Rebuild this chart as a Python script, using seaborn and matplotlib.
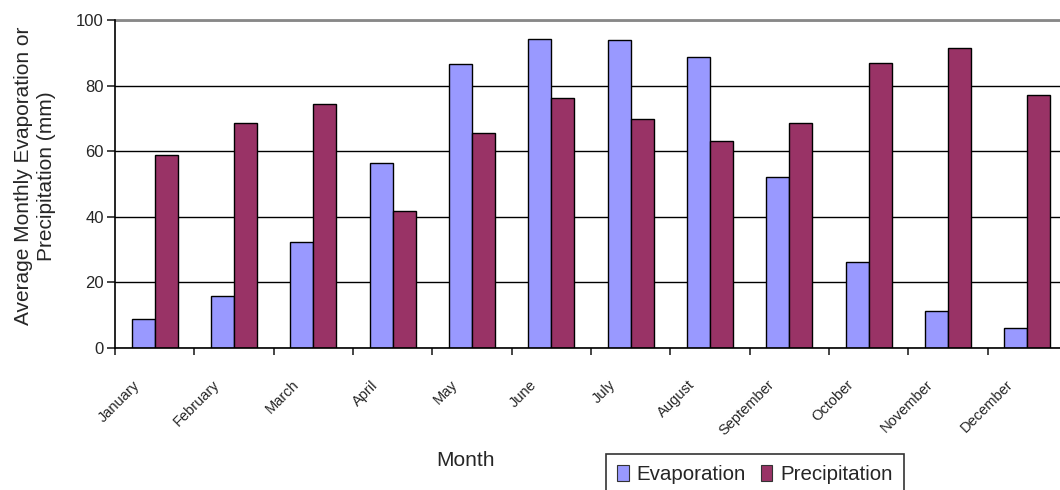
import pandas as pd
import numpy as np
from matplotlib import pyplot as plt
from matplotlib import transforms
import seaborn as sns

# data
months = ['January', 'February', 'March', 'April', 'May', 'June',
          'July', 'August', 'September', 'October', 'November', 'December']
evaporation = [8.8, 15.8, 32.3, 56.3, 86.5, 94.3, 94.0, 88.8, 52.1, 26.1, 11.3, 6.1]
precipitation = [58.8, 68.5, 74.3, 41.7, 65.5, 76.3, 69.7, 63.0, 68.5, 86.8, 91.6, 77.0]
y_ticks = [0, 20, 40, 60, 80, 100]

# long format table for seaborn
df = pd.DataFrame({
    'Month': months * 2,
    'Value': evaporation + precipitation,
    'Series': ['Evaporation'] * 12 + ['Precipitation'] * 12,
})

sns.set_style('white')
plt.rcParams['font.family'] = ['Liberation Sans', 'DejaVu Sans']

fig = plt.figure(figsize=(10.6, 4.9), dpi=100)
ax = fig.add_axes([115 / 1060, 1 - 348 / 490, 952 / 1060, 328 / 490])

sns.barplot(data=df, x='Month', y='Value', hue='Series', ax=ax,
            palette=['#9999FF', '#993366'], edgecolor='black', linewidth=1.0,
            width=0.58, saturation=1, legend=True)

# axis look
ax.set_ylim(0, 100)
ax.set_xlim(-0.5, 11.5)
ax.set_yticks(y_ticks)
ax.set_yticklabels([str(t) for t in y_ticks], fontsize=12)
ax.yaxis.grid(True, color='black', linewidth=1)
ax.set_axisbelow(True)
for s in ['top', 'right']:
    ax.spines[s].set_visible(False)
ax.spines['left'].set_color('black')
ax.spines['bottom'].set_color('black')
ax.spines['left'].set_linewidth(1.2)
ax.spines['bottom'].set_linewidth(1.2)
ax.axhline(100, color='#888888', linewidth=2, clip_on=False)
ax.tick_params(axis='y', left=True, length=6, width=1.2, pad=2)

# x ticks at category boundaries, labels at centers
ax.set_xticks(np.arange(len(months)))
ax.set_xticklabels(months, rotation=45, ha='right', va='center',
                   rotation_mode='anchor', fontsize=10.5)
ax.tick_params(axis='x', bottom=False, length=0, pad=25)
ax.set_xticks(np.arange(len(months) + 1) - 0.5, minor=True)
ax.tick_params(axis='x', which='minor', bottom=True, length=5, width=1.2)
shift = transforms.ScaledTranslation(-0.17, 0, fig.dpi_scale_trans)
for lab in ax.get_xticklabels():
    lab.set_transform(lab.get_transform() + shift)

ax.set_xlabel('Month', fontsize=15, va='center')
ax.xaxis.set_label_coords((465 - 115) / 952, (348 - 460) / 328)
ax.set_ylabel('Average Monthly Evaporation or\nPrecipitation (mm)', fontsize=15,
              va='center')
ax.yaxis.set_label_coords((35 - 115) / 952, (348 - 176) / 328)

leg = ax.legend(loc='upper left', bbox_to_anchor=(606 / 1060, 1 - 454 / 490),
                bbox_transform=fig.transFigure, ncol=2, frameon=True,
                fontsize=14.8, handlelength=0.55, handleheight=0.8,
                handletextpad=0.4, columnspacing=0.7, borderpad=0.55,
                borderaxespad=0, fancybox=False, edgecolor='black')
leg.get_frame().set_linewidth(1.2)
for h in leg.legend_handles:
    h.set_edgecolor('#333333')
    h.set_linewidth(0.8)

fig.savefig('out.png', dpi=100)
